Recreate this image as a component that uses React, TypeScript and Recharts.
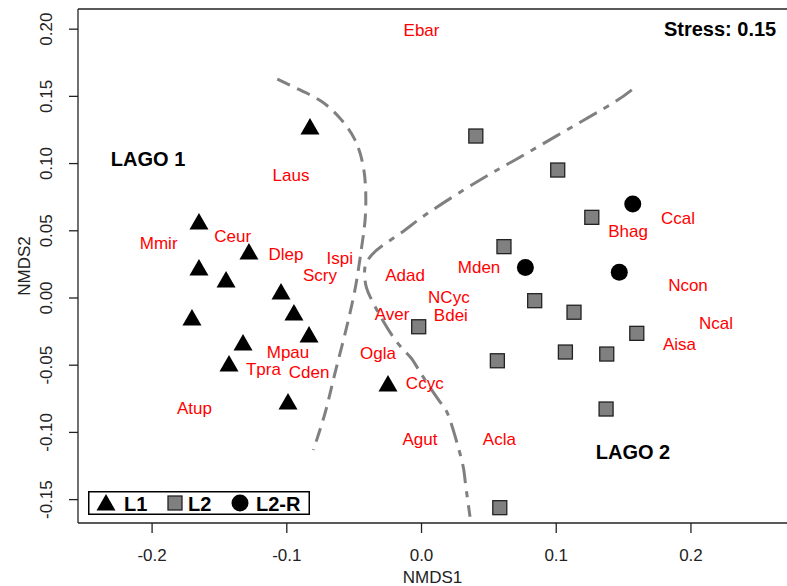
import React from 'react';
import {
  ScatterChart,
  Scatter,
  XAxis,
  YAxis,
  ReferenceLine,
  Legend,
  Label,
} from 'recharts';

// NMDS ordination of samples from two lakes
const FONT = '"Liberation Sans", Arial, sans-serif';
const SPECIES_RED = '#FF0000';
const CURVE_GRAY = '#808080';

const X_MIN = -0.255;
const X_MAX = 0.2713;
const Y_MIN = -0.1674;
const Y_MAX = 0.215;

const X_TICKS = [-0.2, -0.1, 0.0, 0.1, 0.2];
const Y_TICKS = [-0.15, -0.1, -0.05, 0.0, 0.05, 0.1, 0.15, 0.2];

// L1 samples (triangles)
const L1_POINTS = [
  { x: -0.0828, y: 0.1257 },
  { x: -0.1652, y: 0.0551 },
  { x: -0.1281, y: 0.0327 },
  { x: -0.1652, y: 0.0208 },
  { x: -0.1451, y: 0.0119 },
  { x: -0.1043, y: 0.003 },
  { x: -0.1704, y: -0.0164 },
  { x: -0.0947, y: -0.0126 },
  { x: -0.0835, y: -0.029 },
  { x: -0.1325, y: -0.035 },
  { x: -0.1429, y: -0.0506 },
  { x: -0.0991, y: -0.0789 },
  { x: -0.0249, y: -0.0655 },
];

// L2 samples (grey squares)
const L2_POINTS = [
  { x: 0.0403, y: 0.1205 },
  { x: 0.1011, y: 0.0952 },
  { x: 0.1264, y: 0.06 },
  { x: 0.0612, y: 0.0382 },
  { x: 0.084, y: -0.002 },
  { x: 0.1132, y: -0.0106 },
  { x: 0.1598, y: -0.0263 },
  { x: 0.1068, y: -0.0402 },
  { x: 0.1375, y: -0.0417 },
  { x: 0.0563, y: -0.0467 },
  { x: 0.137, y: -0.0826 },
  { x: -0.0021, y: -0.0214 },
  { x: 0.0581, y: -0.156 },
];

// L2-R samples (circles)
const L2R_POINTS = [
  { x: 0.1568, y: 0.0699 },
  { x: 0.0771, y: 0.0226 },
  { x: 0.1468, y: 0.0191 },
];

// species scores
const SPECIES = [
  { name: 'Ebar', x: 0.0, y: 0.1994 },
  { name: 'Laus', x: -0.0969, y: 0.0915 },
  { name: 'Mmir', x: -0.1951, y: 0.0409 },
  { name: 'Ceur', x: -0.1402, y: 0.0461 },
  { name: 'Dlep', x: -0.1006, y: 0.0327 },
  { name: 'Ispi', x: -0.0607, y: 0.0298 },
  { name: 'Scry', x: -0.0754, y: 0.0171 },
  { name: 'Adad', x: -0.0122, y: 0.0171 },
  { name: 'NCyc', x: 0.0203, y: 0.001 },
  { name: 'Bdei', x: 0.0218, y: -0.0126 },
  { name: 'Aver', x: -0.0219, y: -0.0119 },
  { name: 'Ogla', x: -0.0323, y: -0.0409 },
  { name: 'Ccyc', x: 0.0024, y: -0.0635 },
  { name: 'Mden', x: 0.0427, y: 0.0233 },
  { name: 'Mpau', x: -0.0991, y: -0.0404 },
  { name: 'Tpra', x: -0.1174, y: -0.0528 },
  { name: 'Cden', x: -0.0835, y: -0.0548 },
  { name: 'Atup', x: -0.1685, y: -0.0818 },
  { name: 'Agut', x: -0.0011, y: -0.1051 },
  { name: 'Acla', x: 0.0578, y: -0.1051 },
  { name: 'Bhag', x: 0.1533, y: 0.0499 },
  { name: 'Ccal', x: 0.1904, y: 0.0593 },
  { name: 'Ncon', x: 0.1978, y: 0.0097 },
  { name: 'Ncal', x: 0.2186, y: -0.0188 },
  { name: 'Aisa', x: 0.1915, y: -0.0344 },
];

const ANNOTATIONS = [
  { name: 'LAGO 1', x: -0.203, y: 0.1032 },
  { name: 'LAGO 2', x: 0.157, y: -0.1144 },
  { name: 'Stress: 0.15', x: 0.2216, y: 0.1999 },
];

// hand-drawn group boundaries
const LEFT_CURVE = [
  { x: -0.1071, y: 0.1629 },
  { x: -0.0902, y: 0.1548 },
  { x: -0.0741, y: 0.1461 },
  { x: -0.0605, y: 0.1337 },
  { x: -0.0494, y: 0.1176 },
  { x: -0.0432, y: 0.0977 },
  { x: -0.0414, y: 0.0779 },
  { x: -0.0419, y: 0.058 },
  { x: -0.0444, y: 0.0382 },
  { x: -0.0481, y: 0.0134 },
  { x: -0.0531, y: -0.0112 },
  { x: -0.0592, y: -0.0362 },
  { x: -0.0655, y: -0.061 },
  { x: -0.0716, y: -0.0856 },
  { x: -0.0803, y: -0.1131 },
];

const RIGHT_CURVE = [
  { x: 0.1561, y: 0.1548 },
  { x: 0.1422, y: 0.1451 },
  { x: 0.1078, y: 0.125 },
  { x: 0.0694, y: 0.1027 },
  { x: 0.0434, y: 0.0878 },
  { x: 0.0063, y: 0.0642 },
  { x: -0.0122, y: 0.0506 },
  { x: -0.0284, y: 0.0394 },
  { x: -0.037, y: 0.032 },
  { x: -0.0419, y: 0.0233 },
  { x: -0.0419, y: 0.0134 },
  { x: -0.0382, y: 0.001 },
  { x: -0.0212, y: -0.0288 },
  { x: -0.0085, y: -0.0437 },
  { x: -0.0011, y: -0.0551 },
  { x: 0.0137, y: -0.0772 },
  { x: 0.0212, y: -0.0908 },
  { x: 0.0298, y: -0.1205 },
  { x: 0.0323, y: -0.1354 },
  { x: 0.036, y: -0.1627 },
];

const trianglePath = (cx: number, cy: number) =>
  `M${cx},${cy - 11} L${cx + 9.5},${cy + 5.5} L${cx - 9.5},${cy + 5.5} Z`;

const TriangleShape = (props: any) => <path d={trianglePath(props.cx, props.cy)} fill="#000" />;

const SquareShape = (props: any) => (
  <rect x={props.cx - 7} y={props.cy - 7} width={14} height={14} fill="#808080" stroke="#222" strokeWidth={1.3} />
);

const CircleShape = (props: any) => <circle cx={props.cx} cy={props.cy} r={8.5} fill="#000" />;

const SpeciesLabel = (props: any) => (
  <text x={props.cx} y={props.cy} dy="0.35em" textAnchor="middle" fill={SPECIES_RED} fontSize={17} fontFamily={FONT}>
    {props.payload.name}
  </text>
);

const BoldLabel = (props: any) => (
  <text x={props.cx} y={props.cy} dy="0.35em" textAnchor="middle" fill="#000" fontSize={20} fontWeight="bold" fontFamily={FONT}>
    {props.payload.name}
  </text>
);

const NoMarker = () => <g />;

const XTick = (props: any) => (
  <text x={props.x} y={props.y} dy={28} textAnchor="middle" fill="#222" fontSize={17} fontFamily={FONT}>
    {Number(props.payload.value).toFixed(1)}
  </text>
);

const YTick = (props: any) => (
  <text
    x={props.x - 17}
    y={props.y}
    transform={`rotate(-90, ${props.x - 17}, ${props.y})`}
    textAnchor="middle"
    fill="#222"
    fontSize={17}
    fontFamily={FONT}
  >
    {Number(props.payload.value).toFixed(2)}
  </text>
);

const LegendBox = () => (
  <svg width={222} height={24} style={{ display: 'block' }}>
    <rect x={0.75} y={0.75} width={220.5} height={22.5} fill="#fff" stroke="#000" strokeWidth={1.5} />
    <path d={trianglePath(18, 14)} fill="#000" />
    <text x={36} y={19.5} fontSize={20} fontWeight="bold" fontFamily={FONT}>L1</text>
    <rect x={80} y={5} width={14} height={14} fill="#808080" stroke="#222" strokeWidth={1.3} />
    <text x={100} y={19.5} fontSize={20} fontWeight="bold" fontFamily={FONT}>L2</text>
    <circle cx={152} cy={12} r={8.5} fill="#000" />
    <text x={168} y={19.5} fontSize={20} fontWeight="bold" fontFamily={FONT}>L2-R</text>
  </svg>
);

export default function App() {
  return (
    <div style={{ position: 'absolute', left: 0, top: 0, width: 787, height: 586, background: '#fff', overflow: 'hidden' }}>
      <ScatterChart width={787} height={586} margin={{ top: 9, right: 0, left: 8, bottom: 8 }}>
        <XAxis
          type="number"
          dataKey="x"
          domain={[X_MIN, X_MAX]}
          allowDataOverflow
          ticks={X_TICKS}
          tick={<XTick />}
          tickSize={10}
          tickMargin={0}
          height={55}
          stroke="#222"
          strokeWidth={1.3}
        >
          <Label
            content={(p: any) => (
              <text
                x={p.viewBox.x + p.viewBox.width / 2}
                y={p.viewBox.y + 60}
                textAnchor="middle"
                fill="#222"
                fontSize={17}
                fontFamily={FONT}
              >
                NMDS1
              </text>
            )}
          />
        </XAxis>
        <YAxis
          type="number"
          dataKey="y"
          domain={[Y_MIN, Y_MAX]}
          allowDataOverflow
          ticks={Y_TICKS}
          tick={<YTick />}
          tickSize={9}
          tickMargin={0}
          width={70}
          stroke="#222"
          strokeWidth={1.3}
        >
          <Label
            content={(p: any) => {
              const x = p.viewBox.x + 22;
              const y = p.viewBox.y + p.viewBox.height / 2;
              return (
                <text x={x} y={y} transform={`rotate(-90, ${x}, ${y})`} textAnchor="middle" fill="#222" fontSize={17} fontFamily={FONT}>
                  NMDS2
                </text>
              );
            }}
          />
        </YAxis>
        <ReferenceLine y={Y_MAX} stroke="#222" strokeWidth={1.3} />
        <Scatter
          data={LEFT_CURVE}
          shape={<NoMarker />}
          line={{ stroke: CURVE_GRAY, strokeWidth: 3, strokeDasharray: '14 8' }}
          lineType="joint"
          lineJointType="natural"
          isAnimationActive={false}
        />
        <Scatter
          data={RIGHT_CURVE}
          shape={<NoMarker />}
          line={{ stroke: CURVE_GRAY, strokeWidth: 3, strokeDasharray: '20 8 6 8' }}
          lineType="joint"
          lineJointType="natural"
          isAnimationActive={false}
        />
        <Scatter name="L1" data={L1_POINTS} shape={<TriangleShape />} isAnimationActive={false} />
        <Scatter name="L2" data={L2_POINTS} shape={<SquareShape />} isAnimationActive={false} />
        <Scatter name="L2-R" data={L2R_POINTS} shape={<CircleShape />} isAnimationActive={false} />
        <Scatter data={SPECIES} shape={<SpeciesLabel />} isAnimationActive={false} />
        <Scatter data={ANNOTATIONS} shape={<BoldLabel />} isAnimationActive={false} />
        <Legend
          layout="horizontal"
          verticalAlign="middle"
          align="center"
          content={<LegendBox />}
          wrapperStyle={{ left: 88, top: 491, width: 222, height: 24 }}
        />
      </ScatterChart>
    </div>
  );
}
